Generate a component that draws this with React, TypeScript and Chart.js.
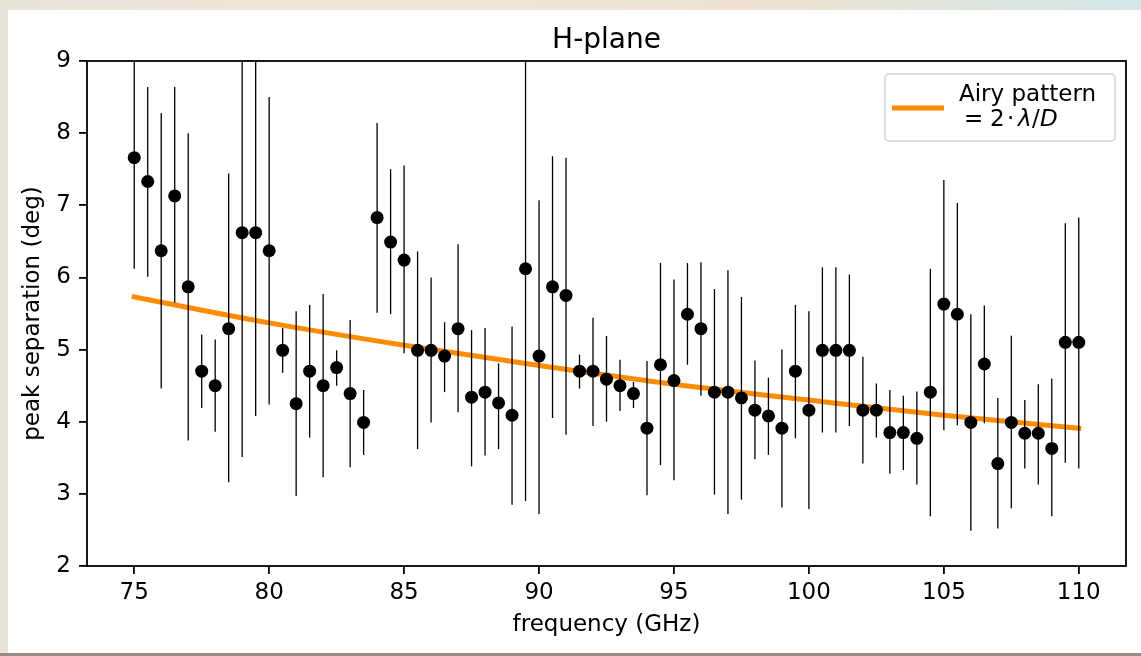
import React, { useEffect, useRef } from "react";
import { Chart, registerables } from "chart.js";

Chart.register(...registerables);

// ---------- data ----------
const FREQ_GHZ = [
  75, 75.5, 76, 76.5, 77, 77.5, 78, 78.5, 79, 79.5,
  80, 80.5, 81, 81.5, 82, 82.5, 83, 83.5, 84, 84.5,
  85, 85.5, 86, 86.5, 87, 87.5, 88, 88.5, 89, 89.5,
  90, 90.5, 91, 91.5, 92, 92.5, 93, 93.5, 94, 94.5,
  95, 95.5, 96, 96.5, 97, 97.5, 98, 98.5, 99, 99.5,
  100, 100.5, 101, 101.5, 102, 102.5, 103, 103.5, 104, 104.5,
  105, 105.5, 106, 106.5, 107, 107.5, 108, 108.5, 109, 109.5,
  110,
];

const PEAK_DEG = [
  7.66, 7.33, 6.37, 7.13, 5.87, 4.7, 4.5, 5.29, 6.62, 6.62,
  6.37, 4.99, 4.25, 4.7, 4.5, 4.75, 4.39, 3.99, 6.83, 6.49,
  6.24, 4.99, 4.99, 4.91, 5.29, 4.34, 4.41, 4.26, 4.09, 6.12,
  4.91, 5.87, 5.75, 4.7, 4.7, 4.59, 4.5, 4.39, 3.91, 4.79,
  4.57, 5.49, 5.29, 4.41, 4.41, 4.33, 4.16, 4.08, 3.91, 4.7,
  4.16, 4.99, 4.99, 4.99, 4.16, 4.16, 3.85, 3.85, 3.77, 4.41,
  5.63, 5.49, 3.99, 4.8, 3.42, 3.99, 3.84, 3.84, 3.63, 5.1,
  5.1,
];

const ERR_LOW = [
  6.12, 6.01, 4.46, 5.65, 3.74, 4.19, 3.86, 3.16, 3.51, 4.08,
  4.24, 4.68, 2.97, 3.78, 3.23, 4.5, 3.37, 3.54, 5.51, 5.49,
  4.95, 3.62, 3.99, 4.41, 4.13, 3.38, 3.53, 3.62, 2.85, 2.9,
  2.72, 4.05, 3.82, 4.46, 3.94, 4.0, 4.15, 4.19, 2.98, 3.4,
  3.19, 4.79, 4.36, 2.99, 2.72, 2.92, 3.48, 3.54, 2.81, 3.77,
  2.79, 3.85, 3.85, 3.94, 3.42, 3.78, 3.28, 3.33, 3.13, 2.69,
  3.88, 3.95, 2.49, 3.98, 2.52, 2.8, 3.35, 3.13, 2.69, 3.43,
  3.35,
];

const ERR_HIGH = [
  9.2, 8.64, 8.28, 8.64, 8.0, 5.21, 5.14, 7.44, 9.7, 9.2,
  8.5, 5.3, 5.53, 5.62, 5.77, 4.99, 5.41, 4.44, 8.14, 7.5,
  7.55, 6.36, 6.0, 5.38, 6.46, 5.27, 5.3, 4.81, 5.32, 9.3,
  7.07, 7.68, 7.66, 4.93, 5.44, 5.19, 4.86, 4.55, 4.84, 6.2,
  5.97, 6.2, 6.21, 5.84, 6.1, 5.73, 4.85, 4.61, 5.0, 5.62,
  5.53, 6.14, 6.14, 6.04, 4.9, 4.53, 4.44, 4.36, 4.42, 6.12,
  7.35, 7.03, 5.49, 5.61, 4.33, 5.19, 4.3, 4.52, 4.6, 6.75,
  6.83,
];

const AIRY_FREQ = [75, 80, 85, 90, 95, 100, 105, 110];
const AIRY_DEG = [5.73, 5.37, 5.06, 4.78, 4.52, 4.3, 4.09, 3.91];

const X_TICKS = [75, 80, 85, 90, 95, 100, 105, 110];
const Y_TICKS = [2, 3, 4, 5, 6, 7, 8, 9];

const TITLE = "H-plane";
const X_LABEL = "frequency (GHz)";
const Y_LABEL = "peak separation (deg)";
const LEGEND_LINE1 = "Airy pattern";

// ---------- styling ----------
const FONT = '"DejaVu Sans", "Liberation Sans", sans-serif';
const ORANGE = "#ff8c00";
const FS = 23;

const decorPlugin = {
  id: "decor",
  afterDatasetDraw(chart: any, args: any) {
    if (args.index !== 1) return; // after the Airy curve, before the points
    const { ctx, chartArea } = chart;
    const xs = chart.scales.x;
    const ys = chart.scales.y;
    ctx.save();
    ctx.beginPath();
    ctx.rect(chartArea.left, chartArea.top, chartArea.right - chartArea.left, chartArea.bottom - chartArea.top);
    ctx.clip();
    ctx.strokeStyle = "#000";
    ctx.lineWidth = 1.3;
    for (let i = 0; i < FREQ_GHZ.length; i++) {
      const x = xs.getPixelForValue(FREQ_GHZ[i]);
      const y1 = ys.getPixelForValue(ERR_LOW[i]);
      const y2 = ys.getPixelForValue(ERR_HIGH[i]);
      ctx.beginPath();
      ctx.moveTo(x, y1);
      ctx.lineTo(x, y2);
      ctx.stroke();
    }
    ctx.restore();
  },
  afterDraw(chart: any) {
    const { ctx, chartArea } = chart;
    const { left, right, top, bottom } = chartArea;
    ctx.save();
    // spines
    ctx.strokeStyle = "#000";
    ctx.lineWidth = 1.8;
    ctx.strokeRect(left, top, right - left, bottom - top);

    const cx = (left + right) / 2;
    const cy = (top + bottom) / 2;
    ctx.fillStyle = "#000";
    ctx.textBaseline = "alphabetic";

    // title
    ctx.font = `28px ${FONT}`;
    ctx.textAlign = "center";
    ctx.fillText(TITLE, cx, 48);

    // x label
    ctx.font = `${FS}px ${FONT}`;
    ctx.fillText(X_LABEL, cx, 631);

    // y label
    ctx.save();
    ctx.translate(39, cy);
    ctx.rotate(-Math.PI / 2);
    ctx.fillText(Y_LABEL, 0, 0);
    ctx.restore();

    // legend
    const lx = 885, ly = 74, lw = 230, lh = 67;
    ctx.beginPath();
    ctx.roundRect(lx, ly, lw, lh, 4);
    ctx.fillStyle = "rgba(255,255,255,0.8)";
    ctx.fill();
    ctx.strokeStyle = "#d0d0d0";
    ctx.lineWidth = 1.4;
    ctx.stroke();

    ctx.beginPath();
    ctx.strokeStyle = ORANGE;
    ctx.lineWidth = 5;
    ctx.lineCap = "butt";
    ctx.moveTo(892, 108);
    ctx.lineTo(944, 108);
    ctx.stroke();

    ctx.fillStyle = "#000";
    ctx.textAlign = "left";
    ctx.font = `${FS}px ${FONT}`;
    ctx.fillText(LEGEND_LINE1, 959, 100.5);
    // second line: = 2·λ/D  (mathtext-like)
    const b2 = 126;
    ctx.font = `${FS}px ${FONT}`;
    ctx.fillText("=", 964, b2);
    ctx.fillText("2", 990, b2);
    ctx.fillText("\u00b7", 1007, b2);
    ctx.font = `italic ${FS}px ${FONT}`;
    ctx.fillText("\u03bb", 1018, b2);
    ctx.font = `${FS}px ${FONT}`;
    ctx.fillText("/", 1032, b2);
    ctx.font = `italic ${FS}px ${FONT}`;
    ctx.fillText("D", 1040, b2);
    ctx.restore();
  },
};

export default function App() {
  const canvasRef = useRef<HTMLCanvasElement | null>(null);

  useEffect(() => {
    const canvas = canvasRef.current;
    if (!canvas) return;
    const points = FREQ_GHZ.map((f, i) => ({ x: f, y: PEAK_DEG[i] }));
    const airy = AIRY_FREQ.map((f, i) => ({ x: f, y: AIRY_DEG[i] }));
    const tickFont = { family: FONT, size: FS };

    const chart = new Chart(canvas, {
      type: "scatter",
      data: {
        datasets: [
          {
            label: "data",
            data: points,
            order: 1,
            showLine: false,
            pointRadius: 6.5,
            pointHoverRadius: 6.5,
            pointBackgroundColor: "#000",
            pointBorderWidth: 0,
            backgroundColor: "#000",
            borderColor: "#000",
          },
          {
            label: "Airy pattern",
            data: airy,
            order: 2,
            showLine: true,
            borderColor: ORANGE,
            backgroundColor: ORANGE,
            borderWidth: 5,
            pointRadius: 0,
            pointHoverRadius: 0,
            cubicInterpolationMode: "monotone",
            borderCapStyle: "square",
            fill: false,
          },
        ],
      } as any,
      options: {
        animation: false,
        responsive: false,
        maintainAspectRatio: false,
        events: [],
        layout: { padding: { left: 0, top: 61, right: 15, bottom: 0 } },
        plugins: {
          legend: { display: false },
          title: { display: false },
          tooltip: { enabled: false },
        },
        scales: {
          x: {
            type: "linear",
            min: 73.25,
            max: 111.75,
            afterBuildTicks: (s: any) => {
              s.ticks = X_TICKS.map((v) => ({ value: v }));
            },
            afterFit: (s: any) => {
              s.height = 90;
            },
            grid: {
              drawOnChartArea: false,
              drawTicks: true,
              tickLength: 8,
              color: "#000",
              lineWidth: 1.8,
            },
            border: { display: false },
            ticks: {
              font: tickFont,
              color: "#000",
              padding: 5,
              maxRotation: 0,
              autoSkip: false,
            },
          },
          y: {
            type: "linear",
            min: 2,
            max: 9,
            afterBuildTicks: (s: any) => {
              s.ticks = Y_TICKS.map((v) => ({ value: v }));
            },
            afterFit: (s: any) => {
              s.width = 87;
            },
            grid: {
              drawOnChartArea: false,
              drawTicks: true,
              tickLength: 8,
              color: "#000",
              lineWidth: 1.8,
            },
            border: { display: false },
            ticks: {
              font: tickFont,
              color: "#000",
              padding: 8,
              autoSkip: false,
            },
          },
        },
      } as any,
      plugins: [decorPlugin],
    });
    return () => chart.destroy();
  }, []);

  return (
    <div
      style={{
        position: "absolute",
        left: 0,
        top: 0,
        width: 1141,
        height: 656,
        overflow: "hidden",
        background:
          "linear-gradient(90deg, #e9e4da 0%, #f2e8d8 35%, #efe3d0 65%, #d3e7e9 100%)",
      }}
    >
      <div
        style={{
          position: "absolute",
          left: 8,
          top: 10,
          width: 1133,
          height: 643,
          background: "#fff",
        }}
      />
      <div
        style={{
          position: "absolute",
          left: 0,
          top: 653,
          width: 1141,
          height: 3,
          background: "#928c85",
        }}
      />
      <canvas
        ref={canvasRef}
        width={1141}
        height={656}
        style={{ position: "absolute", left: 0, top: 0, display: "block" }}
      />
    </div>
  );
}
